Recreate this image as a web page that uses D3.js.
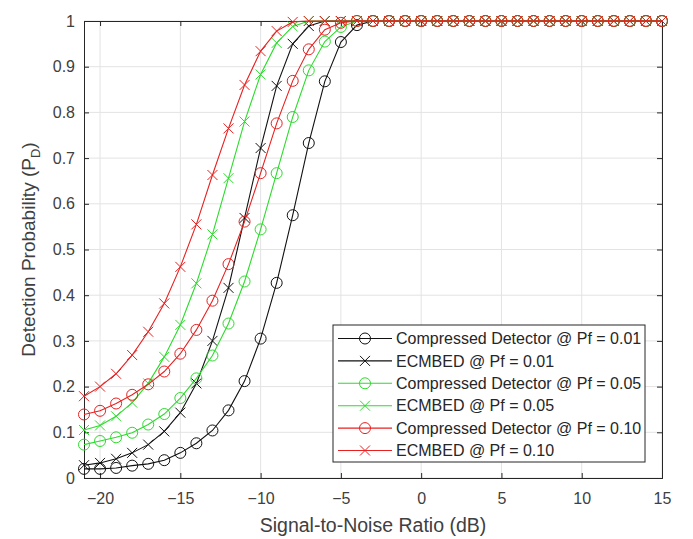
<!DOCTYPE html>
<html>
<head>
<meta charset="utf-8">
<script src="https://cdn.jsdelivr.net/npm/d3@7"></script>
<style>
  html, body { margin: 0; padding: 0; background: #fff; }
  svg { display: block; font-family: "Liberation Sans", Arial, sans-serif; }
</style>
</head>
<body>
<svg id="chart" width="693" height="539"></svg>
<script>
// SNR sweep in dB
const snr = d3.range(-21, 16, 1);

// Detection probability per SNR point (tail values saturate at 1)
function pad(vals) {
  const out = vals.slice();
  while (out.length < snr.length) out.push(1);
  return out;
}

const cdPf001 = pad([0.02, 0.02, 0.022, 0.027, 0.031, 0.039, 0.055, 0.076, 0.104, 0.148, 0.212, 0.305, 0.427, 0.575, 0.733, 0.868, 0.954, 0.991, 1]);
const ecPf001 = pad([0.028, 0.033, 0.042, 0.055, 0.073, 0.102, 0.143, 0.207, 0.300, 0.416, 0.569, 0.722, 0.858, 0.950, 0.989, 1]);
const cdPf005 = pad([0.073, 0.081, 0.089, 0.099, 0.117, 0.140, 0.175, 0.218, 0.268, 0.338, 0.430, 0.544, 0.667, 0.790, 0.892, 0.955, 0.987, 1]);
const ecPf005 = pad([0.105, 0.115, 0.135, 0.165, 0.207, 0.265, 0.335, 0.426, 0.533, 0.656, 0.780, 0.883, 0.952, 0.988, 1]);
const cdPf010 = pad([0.139, 0.147, 0.163, 0.182, 0.205, 0.233, 0.272, 0.324, 0.388, 0.468, 0.561, 0.667, 0.776, 0.869, 0.938, 0.981, 0.996, 1]);
const ecPf010 = pad([0.179, 0.200, 0.228, 0.269, 0.320, 0.382, 0.462, 0.555, 0.663, 0.765, 0.860, 0.934, 0.978, 0.998, 1]);

const seriesNames = [
  "Compressed Detector @ Pf = 0.01",
  "ECMBED @ Pf = 0.01",
  "Compressed Detector @ Pf = 0.05",
  "ECMBED @ Pf = 0.05",
  "Compressed Detector @ Pf = 0.10",
  "ECMBED @ Pf = 0.10"
];
const seriesValues = [cdPf001, ecPf001, cdPf005, ecPf005, cdPf010, ecPf010];
const seriesColors = ["#111111", "#111111", "#2bdc2b", "#2bdc2b", "#e82020", "#e82020"];
const seriesMarkers = ["o", "x", "o", "x", "o", "x"];

const xTicks = [-20, -15, -10, -5, 0, 5, 10, 15];
const yTicks = [0, 0.1, 0.2, 0.3, 0.4, 0.5, 0.6, 0.7, 0.8, 0.9, 1];

const margin = { left: 84, top: 21, right: 693 - 662, bottom: 539 - 478 };
const svg = d3.select("#chart");
const W = 693, H = 539;
const iw = W - margin.left - margin.right;
const ih = H - margin.top - margin.bottom;

const x = d3.scaleLinear().domain([-21, 15]).range([margin.left, margin.left + iw]);
const y = d3.scaleLinear().domain([0, 1]).range([margin.top + ih, margin.top]);

const axisColor = "#262626";
const textColor = "#404040";

// grid
const grid = svg.append("g").attr("class", "grid");
grid.selectAll("line.gx").data(xTicks).join("line")
  .attr("x1", d => x(d)).attr("x2", d => x(d))
  .attr("y1", margin.top).attr("y2", margin.top + ih)
  .attr("stroke", "#e3e3e3").attr("stroke-width", 1);
grid.selectAll("line.gy").data(yTicks).join("line")
  .attr("x1", margin.left).attr("x2", margin.left + iw)
  .attr("y1", d => y(d)).attr("y2", d => y(d))
  .attr("stroke", "#e3e3e3").attr("stroke-width", 1);

// axes with inward ticks
const tickLen = 5;
const bottomAxis = d3.axisBottom(x).tickValues(xTicks).tickSize(-tickLen).tickPadding(15).tickFormat(d3.format("d"));
const leftAxis = d3.axisLeft(y).tickValues(yTicks).tickSize(-tickLen).tickPadding(9).tickFormat(d => d === 0 || d === 1 ? d3.format("d")(d) : d3.format(".1f")(d));
const topAxis = d3.axisTop(x).tickValues(xTicks).tickSize(-tickLen).tickFormat("");
const rightAxis = d3.axisRight(y).tickValues(yTicks).tickSize(-tickLen).tickFormat("");

function styleAxis(g) {
  g.select(".domain").attr("stroke", axisColor).attr("stroke-width", 1);
  g.selectAll(".tick line").attr("stroke", axisColor).attr("stroke-width", 1);
  g.selectAll(".tick text").attr("fill", textColor).style("font-size", "16px").style("font-family", "'Liberation Sans', Arial, sans-serif");
}

svg.append("g").attr("transform", `translate(0,${margin.top + ih})`).call(bottomAxis).call(styleAxis);
svg.append("g").attr("transform", `translate(${margin.left},0)`).call(leftAxis).call(styleAxis);
svg.append("g").attr("transform", `translate(0,${margin.top})`).call(topAxis).call(styleAxis);
svg.append("g").attr("transform", `translate(${margin.left + iw},0)`).call(rightAxis).call(styleAxis);

// axis titles
svg.append("text")
  .attr("x", margin.left + iw / 2).attr("y", 532)
  .attr("text-anchor", "middle").attr("fill", textColor)
  .style("font-size", "19.5px")
  .text("Signal-to-Noise Ratio (dB)");

const yTitle = svg.append("text")
  .attr("transform", `translate(35,${margin.top + ih / 2}) rotate(-90)`)
  .attr("text-anchor", "middle").attr("fill", textColor)
  .style("font-size", "19px");
yTitle.append("tspan").text("Detection Probability (P");
yTitle.append("tspan").attr("dy", 5).style("font-size", "13px").text("D");
yTitle.append("tspan").attr("dy", -5).text(")");

// series
const line = d3.line().x((d, i) => x(snr[i])).y(d => y(d));
const plot = svg.append("g");

function drawMarker(g, type, cx, cy, color) {
  if (type === "o") {
    g.append("circle").attr("cx", cx).attr("cy", cy).attr("r", 5.5)
      .attr("fill", "none").attr("stroke", color).attr("stroke-width", 1);
  } else {
    const s = 5;
    g.append("path")
      .attr("d", `M${cx - s},${cy - s}L${cx + s},${cy + s}M${cx - s},${cy + s}L${cx + s},${cy - s}`)
      .attr("stroke", color).attr("stroke-width", 1).attr("fill", "none");
  }
}

seriesValues.forEach((vals, k) => {
  const g = plot.append("g");
  g.append("path").attr("d", line(vals)).attr("fill", "none")
    .attr("stroke", seriesColors[k]).attr("stroke-width", 1.1);
  vals.forEach((v, i) => drawMarker(g, seriesMarkers[k], x(snr[i]), y(v), seriesColors[k]));
});

// legend
const lx = 333, ly = 325, lw = 312, lh = 137, rowH = 22.4;
const legend = svg.append("g");
legend.append("rect").attr("x", lx).attr("y", ly).attr("width", lw).attr("height", lh)
  .attr("fill", "#fff").attr("stroke", axisColor).attr("stroke-width", 1);
seriesNames.forEach((name, k) => {
  const cy = ly + 13.5 + k * rowH;
  legend.append("line").attr("x1", lx + 5).attr("x2", lx + 59).attr("y1", cy).attr("y2", cy)
    .attr("stroke", seriesColors[k]).attr("stroke-width", 1.1);
  drawMarker(legend, seriesMarkers[k], lx + 32, cy, seriesColors[k]);
  legend.append("text").attr("x", lx + 63).attr("y", cy).attr("dy", "0.36em")
    .attr("fill", axisColor).style("font-size", "16px").text(name);
});
</script>
</body>
</html>
